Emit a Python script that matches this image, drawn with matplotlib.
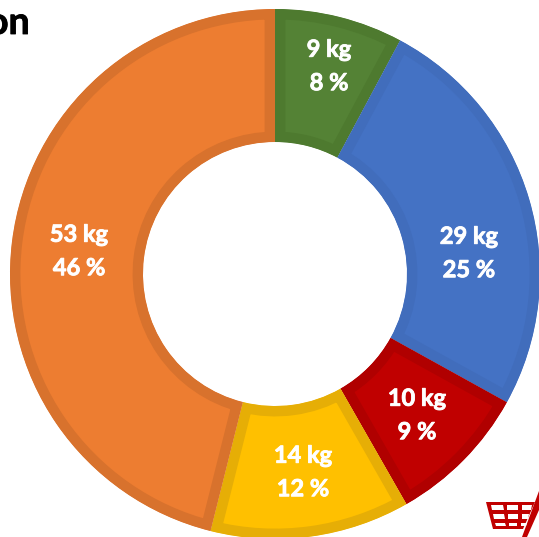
import matplotlib
matplotlib.use("Agg")
import matplotlib.pyplot as plt
import matplotlib.patheffects as pe
from matplotlib.patches import Polygon

# Donut values, clockwise from 12 o'clock
names = ["Green", "Blue", "Red", "Yellow", "Orange"]
weights_kg = [9, 29, 10, 14, 53]
shares_pct = [8, 25, 9, 12, 46]

fill_colors = ["#548235", "#4472C4", "#C00000", "#FFC000", "#ED7D31"]
edge_colors = ["#4E7A2F", "#416DBC", "#B00000", "#E6AE06", "#D8722D"]

W, H = 539, 537
plt.rcParams["font.family"] = ["Lato", "DejaVu Sans"]

fig = plt.figure(figsize=(W / 100, H / 100), dpi=100)
ax = fig.add_axes([0, 0, 1, 1])

# pixel-based layout, y flipped because the axes go upwards
cx, cy = 275, H - 274
outer = 265
ring = 133

wedges, _ = ax.pie(weights_kg, colors=fill_colors, startangle=90, counterclock=False,
                   center=(cx, cy), radius=outer, wedgeprops=dict(width=ring))
for w, ec in zip(wedges, edge_colors):
    # stroke clipped to the wedge so the border only sits on the inside
    w.set_edgecolor(ec)
    w.set_linewidth(15)
    w.set_joinstyle("miter")
    w.set_clip_on(True)  # pie turns clipping off
    w.set_clip_path(w)

ax.set_xlim(0, W)
ax.set_ylim(0, H)
ax.set_aspect("equal")
ax.axis("off")

# label centres (one per slice)
label_x = [329, 469, 417, 303, 79]
label_y = [66, 253, 415, 472, 251]
for x, y, kg, pct in zip(label_x, label_y, weights_kg, shares_pct):
    t = ax.text(x, H - y, f"{kg} kg\n{pct} %", color="white", fontsize=17, fontweight="bold",
                ha="center", va="center", linespacing=1.55)
    # Lato bold is a bit thin next to the original
    t.set_path_effects([pe.withStroke(linewidth=0.6, foreground="white")])

# end of the cropped title
ax.text(-13, H - 34, "on", color="black", fontsize=27, fontweight="bold", ha="left", va="baseline",
        path_effects=[pe.withStroke(linewidth=0.6, foreground="black")])

# small cart logo, bottom right
red = "#C00000"
ax.add_patch(Polygon([(486, H - 502), (535, H - 502), (523, H - 529), (493, H - 529)], closed=True, color=red, lw=0))
ax.add_patch(Polygon([(539, H - 491), (539, H - 510), (527, H - 537), (522, H - 537)], closed=True, color=red, lw=0))
holes = [
    [(491, 505), (503, 505), (504, 510), (492, 510)],
    [(507, 505), (518, 505), (518, 510), (507, 510)],
    [(522, 505), (532, 505), (531, 510), (522, 510)],
    [(493, 514), (504, 514), (505, 519), (494, 519)],
    [(508, 514), (518, 514), (518, 519), (508, 519)],
    [(522, 514), (529, 514), (528, 519), (522, 519)],
    [(495, 523), (505, 523), (506, 526), (496, 526)],
    [(509, 523), (517, 523), (517, 526), (509, 526)],
    [(521, 523), (527, 523), (526, 526), (521, 526)],
]
for h in holes:
    ax.add_patch(Polygon([(x, H - y) for x, y in h], closed=True, color="white", lw=0))

fig.savefig("out.png", dpi=100)
